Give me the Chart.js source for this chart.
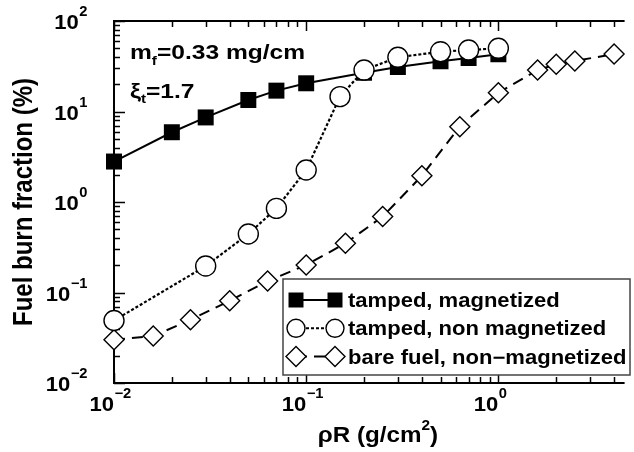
<!DOCTYPE html>
<html lang="en">
<head>
<meta charset="UTF-8">
<title>Fuel burn fraction vs rhoR</title>
<script src="https://cdn.jsdelivr.net/npm/chart.js"></script>
<style>
  html, body { margin: 0; padding: 0; background: #fff; overflow: hidden; }
  canvas { display: block; }
</style>
</head>
<body>
<canvas id="burnChart" width="634" height="452"></canvas>
<script>
// rhoR (g/cm^2) and burn fraction (%)
const xMag = [0.01, 0.02, 0.03, 0.05, 0.07, 0.1, 0.2, 0.3, 0.5, 0.7, 1.0];
const yMag = [2.8, 5.9, 8.6, 13.4, 17.0, 20.5, 26.8, 31.0, 35.9, 39.0, 42.9];

const xNonMag = [0.01, 0.03, 0.05, 0.07, 0.1, 0.15, 0.2, 0.3, 0.5, 0.7, 1.0];
const yNonMag = [0.049, 0.196, 0.443, 0.85, 2.26, 14.6, 28.7, 39.7, 45.8, 47.8, 49.9];

const xBare = [0.01, 0.016, 0.025, 0.04, 0.063, 0.1, 0.16, 0.25, 0.4, 0.63, 1.0, 1.6, 2.0, 2.5, 4.0];
const yBare = [0.030, 0.033, 0.050, 0.081, 0.134, 0.201, 0.35, 0.69, 1.95, 6.8, 16.1, 28.7, 33.2, 36.1, 43.2];

const seriesNames = ['tamped, magnetized', 'tamped, non magnetized', 'bare fuel, non\u2212magnetized'];

// decade exponents used for ticks and labels
const xPowers = [-2, -1, 0];
const yPowers = [-2, -1, 0, 1, 2];

const FONT = '"Liberation Sans", Arial, sans-serif';
const SX = 1.1;   // text in the figure is a little wider than tall

function pts(xs, ys) { return xs.map((x, i) => ({ x: x, y: ys[i] })); }

function put(ctx, str, x, y, size, align, sx) {
    ctx.save();
    ctx.font = 'bold ' + size + 'px ' + FONT;
    ctx.textAlign = align;
    ctx.textBaseline = 'alphabetic';
    ctx.translate(x, y);
    ctx.scale(sx, 1);
    ctx.fillText(str, 0, 0);
    ctx.restore();
}

function textW(ctx, str, size, sx) {
    ctx.font = 'bold ' + size + 'px ' + FONT;
    return ctx.measureText(str).width * sx;
}

// "10" with a superscript exponent; mode 'x' puts the "10" right edge on x, 'y' the whole label
function powLabel(ctx, exp, x, y, mode) {
    const sup = exp < 0 ? '\u2212' + (-exp) : String(exp);
    const wb = textW(ctx, '10', 21, 1.05);
    const ws = textW(ctx, sup, 14, 1.05);
    const left = mode === 'x' ? x - wb : x - wb - ws;
    put(ctx, '10', left, y, 21, 'left', 1.05);
    put(ctx, sup, left + wb + 0.5, y - 13, 14, 'left', 1.05);
}

function marker(ctx, style, x, y, s) {
    ctx.beginPath();
    if (style === 'rect') {
        ctx.rect(x - s, y - s, 2 * s, 2 * s);
        ctx.fillStyle = '#000';
        ctx.fill();
        return;
    }
    if (style === 'circle') ctx.arc(x, y, s, 0, Math.PI * 2);
    else { ctx.moveTo(x - s, y); ctx.lineTo(x, y - s); ctx.lineTo(x + s, y); ctx.lineTo(x, y + s); ctx.closePath(); }
    ctx.fillStyle = '#fff';
    ctx.fill();
    ctx.lineWidth = 1.4;
    ctx.strokeStyle = '#000';
    ctx.stroke();
}

const frame = {
    id: 'frame',
    beforeDatasetsDraw(chart) {
        const { ctx, chartArea: a, scales: { x, y } } = chart;
        ctx.save();
        ctx.strokeStyle = '#000';
        ctx.lineWidth = 1.5;
        ctx.beginPath();
        yPowers.forEach(p => {
            for (let k = 1; k <= 9; k++) {
                const v = k * Math.pow(10, p);
                if (v > y.max * 1.0001) break;
                const py = Math.round(y.getPixelForValue(v)) + 0.5;
                ctx.moveTo(a.left, py);
                ctx.lineTo(a.left + (k === 1 ? 11 : 6), py);
            }
        });
        xPowers.forEach(p => {
            for (let k = 1; k <= 9; k++) {
                const v = k * Math.pow(10, p);
                if (v > x.max) break;
                const px = Math.round(x.getPixelForValue(v)) + 0.5;
                const len = k === 1 ? 10 : 6;
                ctx.moveTo(px, a.bottom); ctx.lineTo(px, a.bottom - len);
                ctx.moveTo(px, a.top); ctx.lineTo(px, a.top + len);
            }
        });
        ctx.stroke();
        ctx.lineWidth = 2;
        ctx.beginPath();
        ctx.moveTo(a.right + 2, a.top);
        ctx.lineTo(a.left, a.top);
        ctx.lineTo(a.left, a.bottom);
        ctx.lineTo(a.right + 2, a.bottom);
        ctx.stroke();
        ctx.restore();
    },
    afterDatasetsDraw(chart) {
        const { ctx, chartArea: a, scales: { x, y } } = chart;
        ctx.save();
        ctx.fillStyle = '#000';

        yPowers.forEach(p => powLabel(ctx, p, 87, y.getPixelForValue(Math.pow(10, p)) + 8, 'y'));
        xPowers.forEach(p => powLabel(ctx, p, x.getPixelForValue(Math.pow(10, p)), 411, 'x'));

        // x title: rhoR (g/cm^2)
        const t1 = '\u03c1R (g/cm', t2 = ')';
        const w1 = textW(ctx, t1, 22, SX), w2 = textW(ctx, '2', 14, SX), w3 = textW(ctx, t2, 22, SX);
        let tx = 378 - (w1 + w2 + w3) / 2;
        put(ctx, t1, tx, 442, 22, 'left', SX);
        put(ctx, '2', tx + w1, 430, 14, 'left', SX);
        put(ctx, t2, tx + w1 + w2, 442, 22, 'left', SX);

        // y title
        ctx.save();
        ctx.translate(32, (a.top + a.bottom) / 2);
        ctx.scale(1.12, 1);
        ctx.rotate(-Math.PI / 2);
        ctx.font = 'bold 24px ' + FONT;
        ctx.textAlign = 'center';
        ctx.fillText('Fuel burn fraction (%)', 0, 0);
        ctx.restore();

        // parameters
        const PS = 1.17;
        let ax = 130;
        put(ctx, 'm', ax, 59, 21, 'left', PS);
        ax += textW(ctx, 'm', 21, PS);
        put(ctx, 'f', ax, 65, 13, 'left', PS);
        ax += textW(ctx, 'f', 13, PS);
        put(ctx, '=0.33 mg/cm', ax, 59, 21, 'left', PS);
        ax = 130;
        put(ctx, '\u03be', ax, 98, 21, 'left', PS);
        ax += textW(ctx, '\u03be', 21, PS);
        put(ctx, 't', ax, 103, 13, 'left', PS);
        ax += textW(ctx, 't', 13, PS);
        put(ctx, '=1.7', ax, 98, 21, 'left', PS);

        // legend box
        const bx = 283, by = 279, bw = 347, bh = 96;
        ctx.fillStyle = '#fff';
        ctx.fillRect(bx, by, bw, bh);
        ctx.strokeStyle = '#444';
        ctx.lineWidth = 1.5;
        ctx.strokeRect(bx, by, bw, bh);
        chart.data.datasets.forEach((ds, i) => {
            const ry = by + 21 + i * 28.3;
            ctx.save();
            ctx.strokeStyle = '#000';
            ctx.lineWidth = 2;
            ctx.setLineDash(ds.borderDash || []);
            ctx.beginPath();
            ctx.moveTo(296, ry);
            ctx.lineTo(335, ry);
            ctx.stroke();
            ctx.setLineDash([]);
            const s = ds.pointStyle === 'rect' ? 7.5 : (ds.pointStyle === 'circle' ? 9 : 10);
            marker(ctx, ds.pointStyle, 296, ry, s);
            marker(ctx, ds.pointStyle, 335, ry, s);
            ctx.restore();
            ctx.fillStyle = '#000';
            put(ctx, ds.label, 348, ry + 7, 19.5, 'left', 1.13);
        });
        ctx.restore();
    }
};

new Chart(document.getElementById('burnChart'), {
    type: 'line',
    data: {
        datasets: [
            {
                label: seriesNames[0], data: pts(xMag, yMag), order: 3,
                borderColor: '#000', borderWidth: 2, tension: 0, clip: false,
                pointStyle: 'rect', pointRadius: 11.3, pointBackgroundColor: '#000',
                pointBorderColor: '#000', pointBorderWidth: 0
            },
            {
                label: seriesNames[1], data: pts(xNonMag, yNonMag), order: 1,
                borderColor: '#000', borderWidth: 2.2, borderDash: [3, 2], tension: 0, clip: false,
                pointStyle: 'circle', pointRadius: 10, pointBackgroundColor: '#fff',
                pointBorderColor: '#000', pointBorderWidth: 1.4
            },
            {
                label: seriesNames[2], data: pts(xBare, yBare), order: 2,
                borderColor: '#000', borderWidth: 2, borderDash: [11, 7], tension: 0, clip: false,
                pointStyle: 'rectRot', pointRadius: 10, pointBackgroundColor: '#fff',
                pointBorderColor: '#000', pointBorderWidth: 1.4
            }
        ]
    },
    options: {
        responsive: false,
        animation: false,
        events: [],
        layout: { padding: { left: 114, top: 21, right: 0, bottom: 69 } },
        scales: {
            x: { type: 'logarithmic', min: 0.01, max: 4.43, display: false },
            y: { type: 'logarithmic', min: 0.01, max: 100, display: false }
        },
        plugins: { legend: { display: false }, tooltip: { enabled: false } }
    },
    plugins: [frame]
});
</script>
</body>
</html>
